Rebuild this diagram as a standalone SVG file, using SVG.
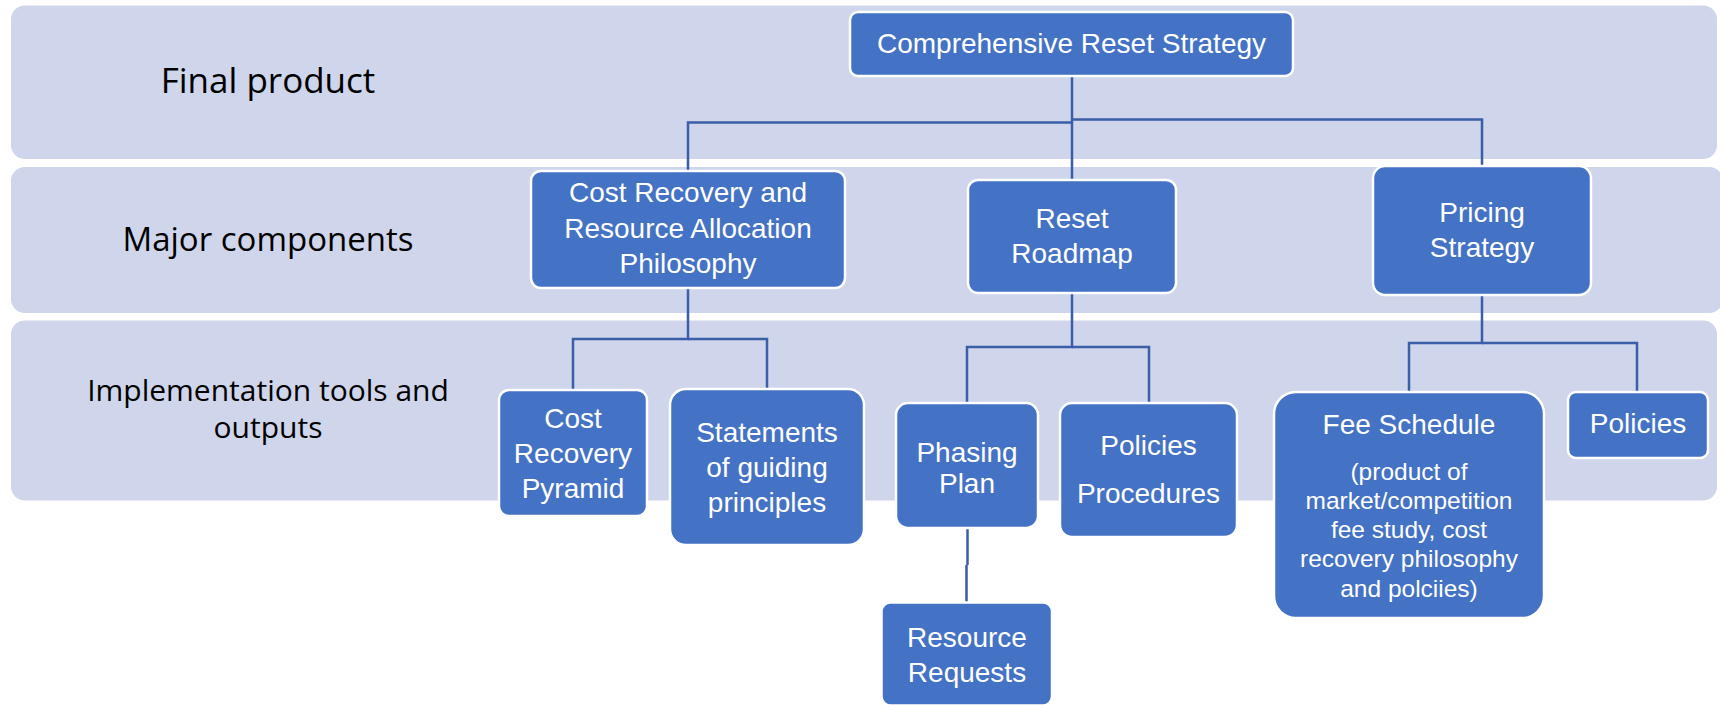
<svg xmlns="http://www.w3.org/2000/svg" width="1720" height="706" viewBox="0 0 1720 706">
<style>
.band{fill:#CFD5EA;}
.lbl{font-family:"Open Sans","Liberation Sans",sans-serif;fill:#000;text-anchor:middle;}
.node{fill:#4472C4;stroke:#FFFFFF;stroke-width:2.5;}
.nt{font-family:"Liberation Sans",Arial,sans-serif;font-size:28px;fill:#FFFFFF;text-anchor:middle;}
.st{font-size:24.5px;}
.conn{fill:none;stroke:#3A5EA8;stroke-width:2.5;}
</style>
<g id="bands">
<rect class="band" x="11" y="5.5" width="1706" height="153.5" rx="14"/>
<rect class="band" x="11" y="167" width="1712" height="146" rx="14"/>
<rect class="band" x="11" y="320.5" width="1706" height="180" rx="14"/>
<text class="lbl" x="268" y="93" font-size="35">Final product</text>
<text class="lbl" x="268" y="251" font-size="33">Major components</text>
<text class="lbl" x="268" y="401" font-size="30">Implementation tools and</text>
<text class="lbl" x="268" y="438" font-size="30">outputs</text>
</g>
<g id="connectors">
<path class="conn" d="M1072,76 V180"/>
<path class="conn" d="M688,171 V122.5 H1072"/>
<path class="conn" d="M1482,166 V119.5 H1072"/>
<path class="conn" d="M688,288 V339 H573 V390"/>
<path class="conn" d="M767,389 V339 H688"/>
<path class="conn" d="M1072,293 V347 H967 V403"/>
<path class="conn" d="M1149,403 V347 H1072"/>
<path class="conn" d="M967.5,528 V565 M966.5,565 V603"/>
<path class="conn" d="M1482,295 V343 H1409 V392"/>
<path class="conn" d="M1637,392 V343 H1482"/>
</g>
<g id="n-top">
<rect class="node" x="850" y="12" width="443" height="64" rx="8"/>
<text class="nt" x="1071.5" y="53">Comprehensive Reset Strategy</text>
</g>
<g id="n-cost-recovery">
<rect class="node" x="531" y="171" width="314" height="117" rx="10"/>
<text class="nt" x="688" y="202">Cost Recovery and</text>
<text class="nt" x="688" y="238">Resource Allocation</text>
<text class="nt" x="688" y="273">Philosophy</text>
</g>
<g id="n-reset-roadmap">
<rect class="node" x="968" y="180" width="208" height="113" rx="10"/>
<text class="nt" x="1072" y="228">Reset</text>
<text class="nt" x="1072" y="263">Roadmap</text>
</g>
<g id="n-pricing">
<rect class="node" x="1373" y="166" width="218" height="129" rx="12"/>
<text class="nt" x="1482" y="222">Pricing</text>
<text class="nt" x="1482" y="257">Strategy</text>
</g>
<g id="n-pyramid">
<rect class="node" x="499" y="390" width="148" height="126" rx="10"/>
<text class="nt" x="573" y="428">Cost</text>
<text class="nt" x="573" y="463">Recovery</text>
<text class="nt" x="573" y="498">Pyramid</text>
</g>
<g id="n-statements">
<rect class="node" x="670" y="389" width="194" height="156" rx="16"/>
<text class="nt" x="767" y="442">Statements</text>
<text class="nt" x="767" y="477">of guiding</text>
<text class="nt" x="767" y="512">principles</text>
</g>
<g id="n-phasing">
<rect class="node" x="896" y="403" width="142" height="125" rx="12"/>
<text class="nt" x="967" y="462">Phasing</text>
<text class="nt" x="967" y="493">Plan</text>
</g>
<g id="n-policies-procedures">
<rect class="node" x="1060" y="403" width="177" height="134" rx="12"/>
<text class="nt" x="1148.5" y="455">Policies</text>
<text class="nt" x="1148.5" y="503">Procedures</text>
</g>
<g id="n-resource-requests">
<rect class="node" x="881.5" y="602.5" width="170.5" height="103" rx="9"/>
<text class="nt" x="967" y="647">Resource</text>
<text class="nt" x="967" y="682">Requests</text>
</g>
<g id="n-fee-schedule">
<rect class="node" x="1274" y="392" width="270" height="226" rx="22"/>
<text class="nt" x="1409" y="434">Fee Schedule</text>
<text class="nt st" x="1409" y="480">(product of</text>
<text class="nt st" x="1409" y="509">market/competition</text>
<text class="nt st" x="1409" y="538">fee study, cost</text>
<text class="nt st" x="1409" y="567">recovery philosophy</text>
<text class="nt st" x="1409" y="597">and polciies)</text>
</g>
<g id="n-policies">
<rect class="node" x="1568" y="392" width="140" height="66" rx="8"/>
<text class="nt" x="1638" y="433">Policies</text>
</g>
</svg>
